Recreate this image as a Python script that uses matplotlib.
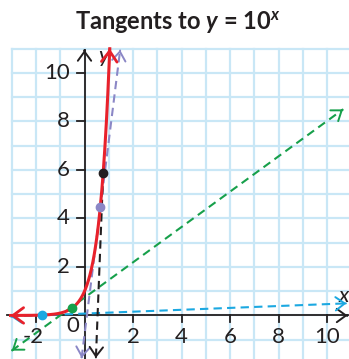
import numpy as np
import matplotlib.pyplot as plt
from matplotlib.patches import FancyArrowPatch

plt.rcParams['font.family'] = ['Lato', 'DejaVu Sans']
plt.rcParams['mathtext.fontset'] = 'custom'
plt.rcParams['mathtext.rm'] = 'Lato:bold'
plt.rcParams['mathtext.it'] = 'Lato:italic:bold'
plt.rcParams['mathtext.bf'] = 'Lato:bold'

RED = '#e8212b'
GREEN = '#17a04b'
BLUE = '#1ba8e1'
PURPLE = '#8b87c6'
BLACK = '#231f20'
GRID = '#c9e7f6'

# points where tangents touch y = 10^x
point_x = [-1.75, -0.5, 0.65, 0.77]
point_colors = [BLUE, GREEN, PURPLE, BLACK]

# dashed lines: (x0, y0), (x1, y1)
blue_line = [(-3.05, -0.04), (10.8, 0.5)]
green_line = [(-3.0, -1.45), (10.66, 8.5)]
purple_line = [(-0.12, -1.75), (1.47, 10.95)]
black_line = [(0.77, 5.89), (0.47, -1.75)]

xtick_vals = [-2, 2, 4, 6, 8, 10]
ytick_vals = [2, 4, 6, 8, 10]

fig = plt.figure(figsize=(3.49, 3.59), dpi=100)
ax = fig.add_axes([0, 0, 1, 1])
ax.set_xlim(-3.485, 10.907)
ax.set_ylim(-1.794, 13.01)
ax.axis('off')

# grid
for gx in range(-3, 11):
    ax.plot([gx, gx], [-1.8, 11], color=GRID, lw=1.6, zorder=0)
for gy in range(-1, 12):
    ax.plot([-3, 10.95], [gy, gy], color=GRID, lw=1.6, zorder=0)


def arrow_head(x0, y0, x1, y1, color, lw=1.4, scale=12):
    # small solid chevron at (x1, y1) pointing away from (x0, y0)
    d = np.array([x1 - x0, y1 - y0])
    d = d / np.hypot(*d) * 0.02
    a = FancyArrowPatch((x1 - d[0], y1 - d[1]), (x1, y1),
                        arrowstyle='->,head_length=0.55,head_width=0.4',
                        mutation_scale=scale, color=color, lw=lw,
                        shrinkA=0, shrinkB=0, zorder=5)
    ax.add_patch(a)


# axes
ax.plot([-3.2, 10.85], [0, 0], color=BLACK, lw=1.3, zorder=1)
ax.plot([0, 0], [-1.8, 10.95], color=BLACK, lw=1.3, zorder=1)
arrow_head(0, 0, 10.85, 0, BLACK)
arrow_head(0, 0, 0, 10.95, BLACK)
for t in xtick_vals:
    ax.plot([t, t], [0, -0.25], color=BLACK, lw=1.3, zorder=1)
for t in ytick_vals:
    ax.plot([0, -0.33], [t, t], color=BLACK, lw=1.3, zorder=1)

lab_font = dict(fontsize=16, color=BLACK)
for t in xtick_vals:
    if t < 0:
        ax.text(t + 0.32, -0.88, '-' + str(-t), ha='right', va='center', **lab_font)
    else:
        ax.text(t, -0.88, str(t), ha='center', va='center', **lab_font)
for t in ytick_vals:
    ax.text(-0.6, t, str(t), ha='right', va='center', **lab_font)
ax.text(-0.47, -0.45, '0', ha='center', va='center', **lab_font)
ax.text(10.68, 0.8, 'x', ha='center', va='center', fontsize=16,
        style='italic', color=BLACK)
ax.text(0.78, 10.7, 'y', ha='center', va='center', fontsize=16,
        style='italic', color=BLACK)

# dashed tangents
dashed = [(blue_line, BLUE, True), (green_line, GREEN, True),
          (purple_line, PURPLE, True), (black_line, BLACK, False)]
for (p0, p1), c, both in dashed:
    ax.plot([p0[0], p1[0]], [p0[1], p1[1]], color=c, lw=1.5,
            ls=(0, (4, 2.5)), zorder=2)
    arrow_head(p0[0], p0[1], p1[0], p1[1], c)
    if both:
        arrow_head(p1[0], p1[1], p0[0], p0[1], c)

# y = 10^x
xs = np.linspace(-3.05, np.log10(11), 400)
ax.plot(xs, 10 ** xs, color=RED, lw=2.2, zorder=3)
arrow_head(-2.9, 10 ** -2.9, -3.05, 10 ** -3.05, RED, lw=2, scale=14)
arrow_head(1.0, 10.0, np.log10(11), 11, RED, lw=2, scale=14)

for px, c in zip(point_x, point_colors):
    ax.plot(px, 10 ** px, 'o', color=c, ms=6, zorder=6)

fig.text(0.51, 1 - 23 / 359, r'Tangents to $y$ = $\mathrm{10}^{x}$',
         ha='center', va='center', fontsize=17, fontweight='bold',
         color=BLACK)

fig.savefig('out.png', dpi=100)
